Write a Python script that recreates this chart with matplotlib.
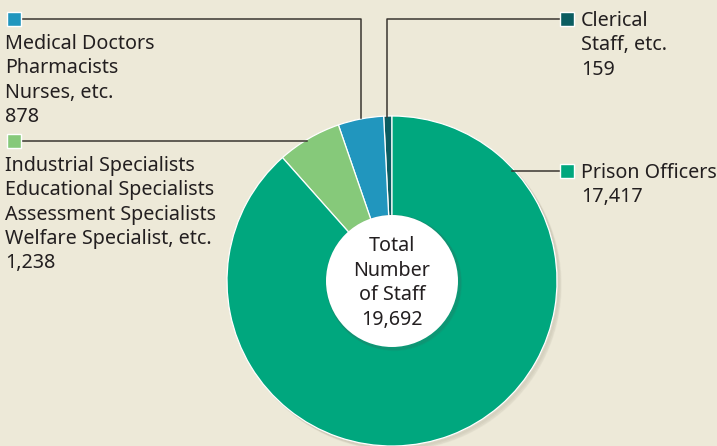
import matplotlib
matplotlib.use("Agg")
import matplotlib.pyplot as plt
from matplotlib.patches import Circle, Rectangle

# data (pie goes counterclockwise from 12 o'clock)
labels = ["Clerical\nStaff, etc.", "Medical Doctors\nPharmacists\nNurses, etc.",
          "Industrial Specialists\nEducational Specialists\nAssessment Specialists\nWelfare Specialist, etc.",
          "Prison Officers"]
values = [159, 878, 1238, 17417]
value_text = ["159", "878", "1,238", "17,417"]
colors = ["#0b5d61", "#2196be", "#86c97a", "#00a77e"]
total = 19692

BG = "#ede9d8"
INK = "#231f20"
W, H = 717, 446
FS = 14.2
LS = 1.29

plt.rcParams['font.family'] = ['Noto Sans', 'DejaVu Sans']

fig = plt.figure(figsize=(7.17, 4.46), dpi=100, facecolor=BG)
ax = fig.add_axes([0, 0, 1, 1])

def Y(py):
    return H - py

cx, cy, r = 392, Y(281), 165

# soft shadow under pie
for i in range(3):
    ax.add_patch(Circle((cx + 2 + i, cy - 2 - i), r, color="#6b6450", alpha=0.05, zorder=1))

ax.pie(values, colors=colors, startangle=90, counterclock=True, center=(cx, cy),
       radius=r, frame=True, wedgeprops=dict(edgecolor="white", linewidth=0.9))
for w in ax.patches[-len(values):]:
    w.set_zorder(2)
ax.set_xlim(0, W)
ax.set_ylim(0, H)
ax.set_aspect("equal")
ax.axis("off")

# center circle with shadow
for i in range(3):
    ax.add_patch(Circle((cx + 1 + i * 0.7, cy - 1 - i * 0.7), 67, color="#555", alpha=0.06, zorder=3))
ax.add_patch(Circle((cx, cy), 66, facecolor="white", edgecolor="none", zorder=4))
ax.text(cx, Y(283), "Total\nNumber\nof Staff\n" + f"{total:,}", ha="center", va="center",
        fontsize=FS, color=INK, linespacing=LS, zorder=5)

def marker(px, py, color):
    ax.add_patch(Rectangle((px, Y(py) - 14), 14, 14, facecolor=color, edgecolor="white",
                           linewidth=1.0, zorder=6))

lw = 1.1
lc = "#3a3530"
# medical doctors
marker(7, 12, colors[1])
ax.plot([21, 361, 361], [Y(19), Y(19), Y(118)], color=lc, lw=lw, zorder=5)
ax.text(5, Y(34), labels[1] + "\n" + value_text[1], ha="left", va="top",
        fontsize=FS, color=INK, linespacing=LS)
# industrial
marker(7, 134, colors[2])
ax.plot([21, 307], [Y(141), Y(141)], color=lc, lw=lw, zorder=5)
ax.text(5, Y(156), labels[2] + "\n" + value_text[2], ha="left", va="top",
        fontsize=FS, color=INK, linespacing=LS)
# clerical
marker(560, 12, colors[0])
ax.plot([387, 387, 560], [Y(117), Y(19), Y(19)], color=lc, lw=lw, zorder=5)
ax.text(581, Y(11), labels[0] + "\n" + value_text[0], ha="left", va="top",
        fontsize=FS, color=INK, linespacing=LS)
# prison officers
marker(560, 164, colors[3])
ax.plot([512, 560], [Y(171), Y(171)], color=lc, lw=lw, zorder=5)
ax.text(581, Y(163), labels[3] + "\n" + value_text[3], ha="left", va="top",
        fontsize=FS, color=INK, linespacing=LS)

fig.savefig("out.png", dpi=100, facecolor=BG)
